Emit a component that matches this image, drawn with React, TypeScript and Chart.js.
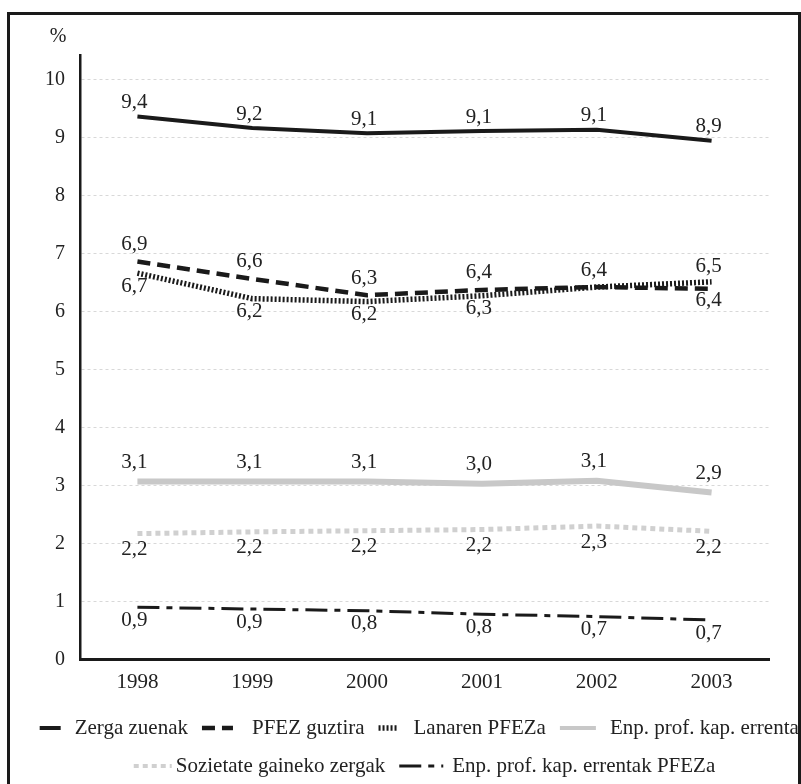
import React, { useEffect, useRef } from "react";
import { Chart, registerables } from "chart.js";

Chart.register(...registerables);

const years = ["1998", "1999", "2000", "2001", "2002", "2003"];
const yTicks = [0, 1, 2, 3, 4, 5, 6, 7, 8, 9, 10];

const zergaZuenak = [9.36, 9.16, 9.07, 9.11, 9.13, 8.94];
const pfezGuztira = [6.86, 6.56, 6.28, 6.37, 6.42, 6.39];
const lanarenPfeza = [6.66, 6.22, 6.17, 6.27, 6.42, 6.51];
const enpProfKapErrentak = [3.07, 3.07, 3.07, 3.03, 3.08, 2.88];
const sozietateGainekoZergak = [2.17, 2.2, 2.22, 2.24, 2.3, 2.21];
const enpProfKapErrentakPfeza = [0.9, 0.87, 0.84, 0.78, 0.74, 0.68];

const seriesNames = [
  "Zerga zuenak",
  "PFEZ guztira",
  "Lanaren PFEZa",
  "Enp. prof. kap. errentak",
  "Sozietate gaineko zergak",
  "Enp. prof. kap. errentak PFEZa",
];

const FONT = "'Liberation Serif', 'Times New Roman', serif";
const TEXT = "#222222";
const legendRows = [[0, 1, 2, 3], [4, 5]];

const fmt = (v: number) => v.toFixed(1).replace(".", ",");

const valueLabels = {
  id: "valueLabels",
  afterDatasetsDraw(chart: any) {
    const ctx = chart.ctx;
    ctx.save();
    ctx.font = `21px ${FONT}`;
    ctx.fillStyle = TEXT;
    ctx.textAlign = "center";
    ctx.textBaseline = "middle";
    chart.data.datasets.forEach((ds: any, i: number) => {
      const meta = chart.getDatasetMeta(i);
      meta.data.forEach((pt: any, j: number) => {
        const place = ds.labelPlace[j];
        if (place === "none") return;
        const dy = place === "above" ? -ds.labelAbove : ds.labelBelow;
        ctx.fillText(fmt(ds.data[j]), pt.x - 3, pt.y + dy);
      });
    });
    ctx.restore();
  },
};

const extras = {
  id: "extras",
  afterDraw(chart: any) {
    const ctx = chart.ctx;
    const area = chart.chartArea;
    ctx.save();
    ctx.font = `20px ${FONT}`;
    ctx.fillStyle = TEXT;
    ctx.textAlign = "center";
    ctx.textBaseline = "middle";
    ctx.fillText("%", area.left - 22, area.top - 18);

    ctx.font = `21px ${FONT}`;
    ctx.textAlign = "left";
    const cx = (area.left + area.right) / 2;
    const rowY = [area.bottom + 68.5, area.bottom + 106.5];
    const spacing = 14;
    legendRows.forEach((row, r) => {
      const items = row.map((i) => {
        const ds = chart.data.datasets[i];
        return { ds, tw: ctx.measureText(ds.label).width };
      });
      const total =
        items.reduce((s, it) => s + it.ds.legendMarker + it.ds.legendGap + it.tw, 0) +
        spacing * (items.length - 1);
      let x = cx - total / 2;
      const y = rowY[r];
      items.forEach((it) => {
        const ds = it.ds;
        ctx.save();
        ctx.strokeStyle = ds.borderColor;
        ctx.lineWidth = ds.legendWidth || ds.borderWidth;
        ctx.setLineDash(ds.borderDash || []);
        ctx.lineCap = "butt";
        ctx.beginPath();
        ctx.moveTo(x, y);
        ctx.lineTo(x + ds.legendMarker, y);
        ctx.stroke();
        ctx.restore();
        x += ds.legendMarker + ds.legendGap;
        ctx.fillText(ds.label, x, y);
        x += it.tw + spacing;
      });
    });
    ctx.restore();
  },
};

export default function App() {
  const ref = useRef<HTMLCanvasElement>(null);

  useEffect(() => {
    const common = {
      pointRadius: 0,
      pointHoverRadius: 0,
      fill: false,
      tension: 0,
      borderCapStyle: "butt",
    };
    const chart = new Chart(ref.current as HTMLCanvasElement, {
      type: "line",
      data: {
        labels: years,
        datasets: [
          {
            ...common,
            label: seriesNames[0],
            data: zergaZuenak,
            borderColor: "#1a1a1a",
            borderWidth: 4,
            labelPlace: ["above", "above", "above", "above", "above", "above"],
            labelAbove: 14,
            labelBelow: 14,
            legendMarker: 21,
            legendGap: 14,
          },
          {
            ...common,
            label: seriesNames[1],
            data: pfezGuztira,
            borderColor: "#1a1a1a",
            borderWidth: 4.5,
            borderDash: [13, 7],
            labelPlace: ["above", "above", "above", "above", "above", "below"],
            labelAbove: 17,
            labelBelow: 12,
            legendMarker: 31,
            legendGap: 19,
          },
          {
            ...common,
            label: seriesNames[2],
            data: lanarenPfeza,
            borderColor: "#1a1a1a",
            borderWidth: 5.5,
            borderDash: [2, 2],
            labelPlace: ["below", "below", "below", "below", "none", "above"],
            labelAbove: 15,
            labelBelow: 13,
            legendMarker: 18,
            legendGap: 17,
          },
          {
            ...common,
            label: seriesNames[3],
            data: enpProfKapErrentak,
            borderColor: "#c8c8c8",
            borderWidth: 6,
            labelPlace: ["above", "above", "above", "above", "above", "above"],
            labelAbove: 19,
            labelBelow: 14,
            legendMarker: 36,
            legendGap: 14,
            legendWidth: 4,
          },
          {
            ...common,
            label: seriesNames[4],
            data: sozietateGainekoZergak,
            borderColor: "#d0d0d0",
            borderWidth: 5,
            borderDash: [5, 4],
            labelPlace: ["below", "below", "below", "below", "below", "below"],
            labelAbove: 14,
            labelBelow: 16,
            legendMarker: 38,
            legendGap: 4,
            legendWidth: 4,
          },
          {
            ...common,
            label: seriesNames[5],
            data: enpProfKapErrentakPfeza,
            borderColor: "#1a1a1a",
            borderWidth: 3,
            borderDash: [22, 7, 6, 7],
            labelPlace: ["below", "below", "below", "below", "below", "below"],
            labelAbove: 14,
            labelBelow: 13,
            legendMarker: 44,
            legendGap: 9,
          },
        ] as any,
      },
      options: {
        responsive: false,
        animation: false,
        devicePixelRatio: 1,
        layout: { padding: { top: 40, right: 29, bottom: 0, left: 0 } },
        plugins: {
          legend: { display: false },
          tooltip: { enabled: false },
        },
        scales: {
          x: {
            type: "category",
            offset: true,
            grid: { display: false, drawTicks: false },
            border: { display: true, color: "#1a1a1a", width: 3 },
            ticks: { padding: 10, color: TEXT, font: { family: FONT, size: 21 } },
            afterFit(s: any) {
              s.height = 124.5;
            },
          },
          y: {
            min: 0,
            max: 10.42,
            grid: { color: "#d8d8d8", lineWidth: 1, drawTicks: false },
            border: { display: true, color: "#1a1a1a", width: 2.5, dash: [3, 3] },
            ticks: { padding: 15, color: TEXT, font: { family: FONT, size: 20 } },
            afterBuildTicks(s: any) {
              s.ticks = yTicks.map((v) => ({ value: v }));
            },
            afterFit(s: any) {
              s.width = 70;
            },
          },
        },
      } as any,
      plugins: [valueLabels, extras],
    });
    return () => chart.destroy();
  }, []);

  return (
    <div
      style={{
        position: "fixed",
        left: 7,
        top: 12,
        width: 788,
        height: 790,
        border: "3px solid #1a1a1a",
        background: "#ffffff",
        overflow: "hidden",
      }}
    >
      <canvas
        ref={ref}
        width={788}
        height={769}
        style={{ display: "block", width: 788, height: 769 }}
      />
    </div>
  );
}
